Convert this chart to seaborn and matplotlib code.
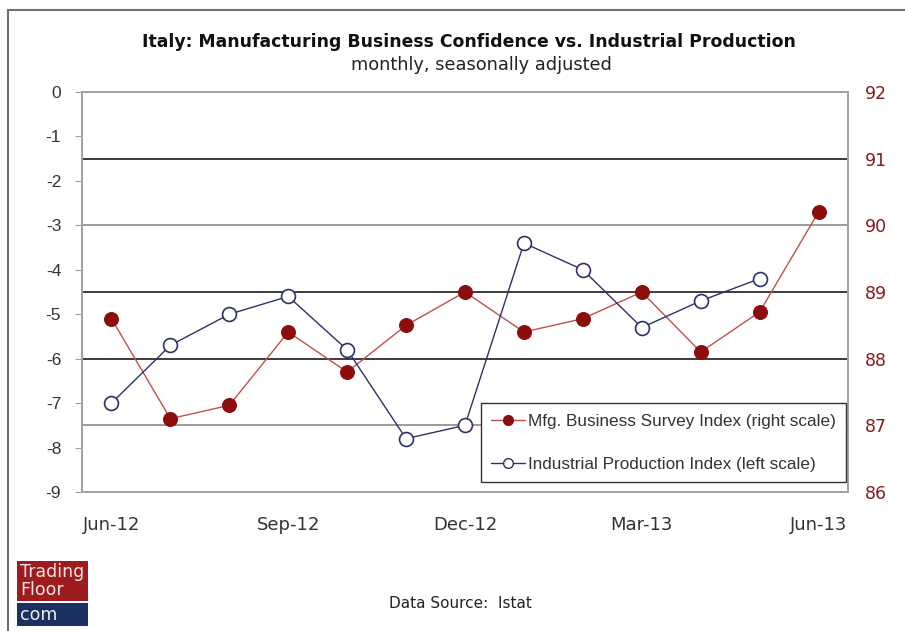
import matplotlib
matplotlib.use("Agg")
import matplotlib.pyplot as plt
from matplotlib.lines import Line2D
from matplotlib.patches import Rectangle
import seaborn as sns
import pandas as pd

months = ["Jun-12", "Jul-12", "Aug-12", "Sep-12", "Oct-12", "Nov-12", "Dec-12",
          "Jan-13", "Feb-13", "Mar-13", "Apr-13", "May-13", "Jun-13"]
survey = [88.6, 87.1, 87.3, 88.4, 87.8, 88.5, 89.0, 88.4, 88.6, 89.0, 88.1, 88.7, 90.2]
production = [-7.0, -5.7, -5.0, -4.6, -5.8, -7.8, -7.5, -3.4, -4.0, -5.3, -4.7, -4.2]
tick_labels = ["Jun-12", "Sep-12", "Dec-12", "Mar-13", "Jun-13"]
left_ticks = [0, -1, -2, -3, -4, -5, -6, -7, -8, -9]
right_ticks = [86, 87, 88, 89, 90, 91, 92]

df_s = pd.DataFrame({"pos": range(len(survey)), "val": survey})
df_p = pd.DataFrame({"pos": range(len(production)), "val": production})

sns.set_style("white")
plt.rcParams["font.family"] = ["Liberation Sans", "DejaVu Sans"]

fig = plt.figure(figsize=(9.05, 6.31), dpi=100)
ax1 = fig.add_axes([82/905, 1-492/631, (848-82)/905, (492-92)/631])
ax2 = ax1.twinx()
ax1.set_zorder(2)
ax1.patch.set_visible(False)

RED = "#8B0D0D"
REDLINE = "#C0504D"
NAVY = "#2E3168"
TICKRED = "#8B1A1A"

# gridlines on right scale
ax2.set_ylim(86, 92)
ax2.set_yticks(right_ticks)
ax2.grid(True, axis="y", color="#1a1a1a", lw=1.2)
ax2.set_axisbelow(True)
for gl, v in zip(ax2.get_ygridlines(), right_ticks):
    if v in (90, 87):
        gl.set_color("#8a8a8a")
    if v in (86, 92):
        gl.set_visible(False)

sns.lineplot(data=df_s, x="pos", y="val", ax=ax2, color=REDLINE, lw=1.0,
             marker="o", markersize=10, markerfacecolor=RED, markeredgecolor=RED,
             legend=False)
sns.lineplot(data=df_p, x="pos", y="val", ax=ax1, color=NAVY, lw=1.0,
             marker="o", markersize=10, markerfacecolor="white", markeredgecolor=NAVY,
             markeredgewidth=1.2, legend=False)

ax1.set_xlim(-0.5, len(months) - 0.5)
ax1.set_ylim(-9, 0)
ax1.set_yticks(left_ticks)
ax1.set_yticklabels([str(t) for t in left_ticks])
ax1.set_xticks([months.index(t) for t in tick_labels])
ax1.set_xticklabels(tick_labels, family="DejaVu Sans")
ax2.set_yticklabels([str(t) for t in right_ticks], family="DejaVu Sans")

for ax in (ax1, ax2):
    ax.set_xlabel("")
    ax.set_ylabel("")
    for s in ax.spines.values():
        s.set_color("#a0a0a0")
        s.set_linewidth(1.2)

ax1.tick_params(axis="y", labelsize=12.5, colors="#333333", left=True, length=5,
                color="#a0a0a0", pad=10)
ax1.tick_params(axis="x", labelsize=13, colors="#333333", bottom=False, pad=14)
ax2.tick_params(axis="y", labelsize=12.5, colors=TICKRED, right=False, pad=9)

handles = [
    Line2D([0], [0], color=REDLINE, lw=1.0, marker="o", markersize=7,
           markerfacecolor=RED, markeredgecolor=RED),
    Line2D([0], [0], color=NAVY, lw=1.0, marker="o", markersize=7,
           markerfacecolor="white", markeredgecolor=NAVY),
]
leg = ax1.legend(handles, ["Mfg. Business Survey Index (right scale)",
                           "Industrial Production Index (left scale)"],
                 loc="lower right", bbox_to_anchor=(0.998, 0.025), fontsize=12.3,
                 frameon=True, fancybox=False, edgecolor="#333333",
                 framealpha=1.0, handlelength=2.0, handletextpad=0.2,
                 borderpad=0.6, labelspacing=1.65, borderaxespad=0.0)
leg.get_frame().set_linewidth(1.0)
for t in leg.get_texts():
    t.set_color("#333333")

fig.text(469/905, 1-42/631, "Italy: Manufacturing Business Confidence vs. Industrial Production",
         ha="center", va="center", fontsize=12.4, fontweight="bold",
         family="DejaVu Sans", color="#111111")
fig.text(481/905, 1-65/631, "monthly, seasonally adjusted", ha="center", va="center",
         fontsize=12.8, family="DejaVu Sans", color="#222222")
fig.text(460/905, 1-604/631, "Data Source:  Istat", ha="center", va="center",
         fontsize=11, family="DejaVu Sans", color="#222222")

# logo
fig.patches.append(Rectangle((17/905, 1-601/631), 71/905, 40/631,
                             transform=fig.transFigure, facecolor="#9E1B1F",
                             edgecolor="none"))
fig.patches.append(Rectangle((17/905, 1-626/631), 71/905, 23/631,
                             transform=fig.transFigure, facecolor="#1B3060",
                             edgecolor="none"))
fig.text(20/905, 1-572/631, "Trading", fontsize=12.5, color="#f4e6e6", va="center",
         ha="left", family="DejaVu Sans")
fig.text(20/905, 1-590/631, "Floor", fontsize=12.5, color="#f4e6e6", va="center",
         ha="left", family="DejaVu Sans")
fig.text(20/905, 1-615/631, "com", fontsize=12.5, color="#f0f0f5", va="center",
         ha="left", family="DejaVu Sans")

# outer frame lines
fig.add_artist(Line2D([8/905, 1], [1-9.5/631, 1-9.5/631], transform=fig.transFigure,
                      color="#707070", lw=1.5))
fig.add_artist(Line2D([8/905, 8/905], [1-9.5/631, 0], transform=fig.transFigure,
                      color="#707070", lw=1.5))

fig.savefig("out.png", dpi=100)
